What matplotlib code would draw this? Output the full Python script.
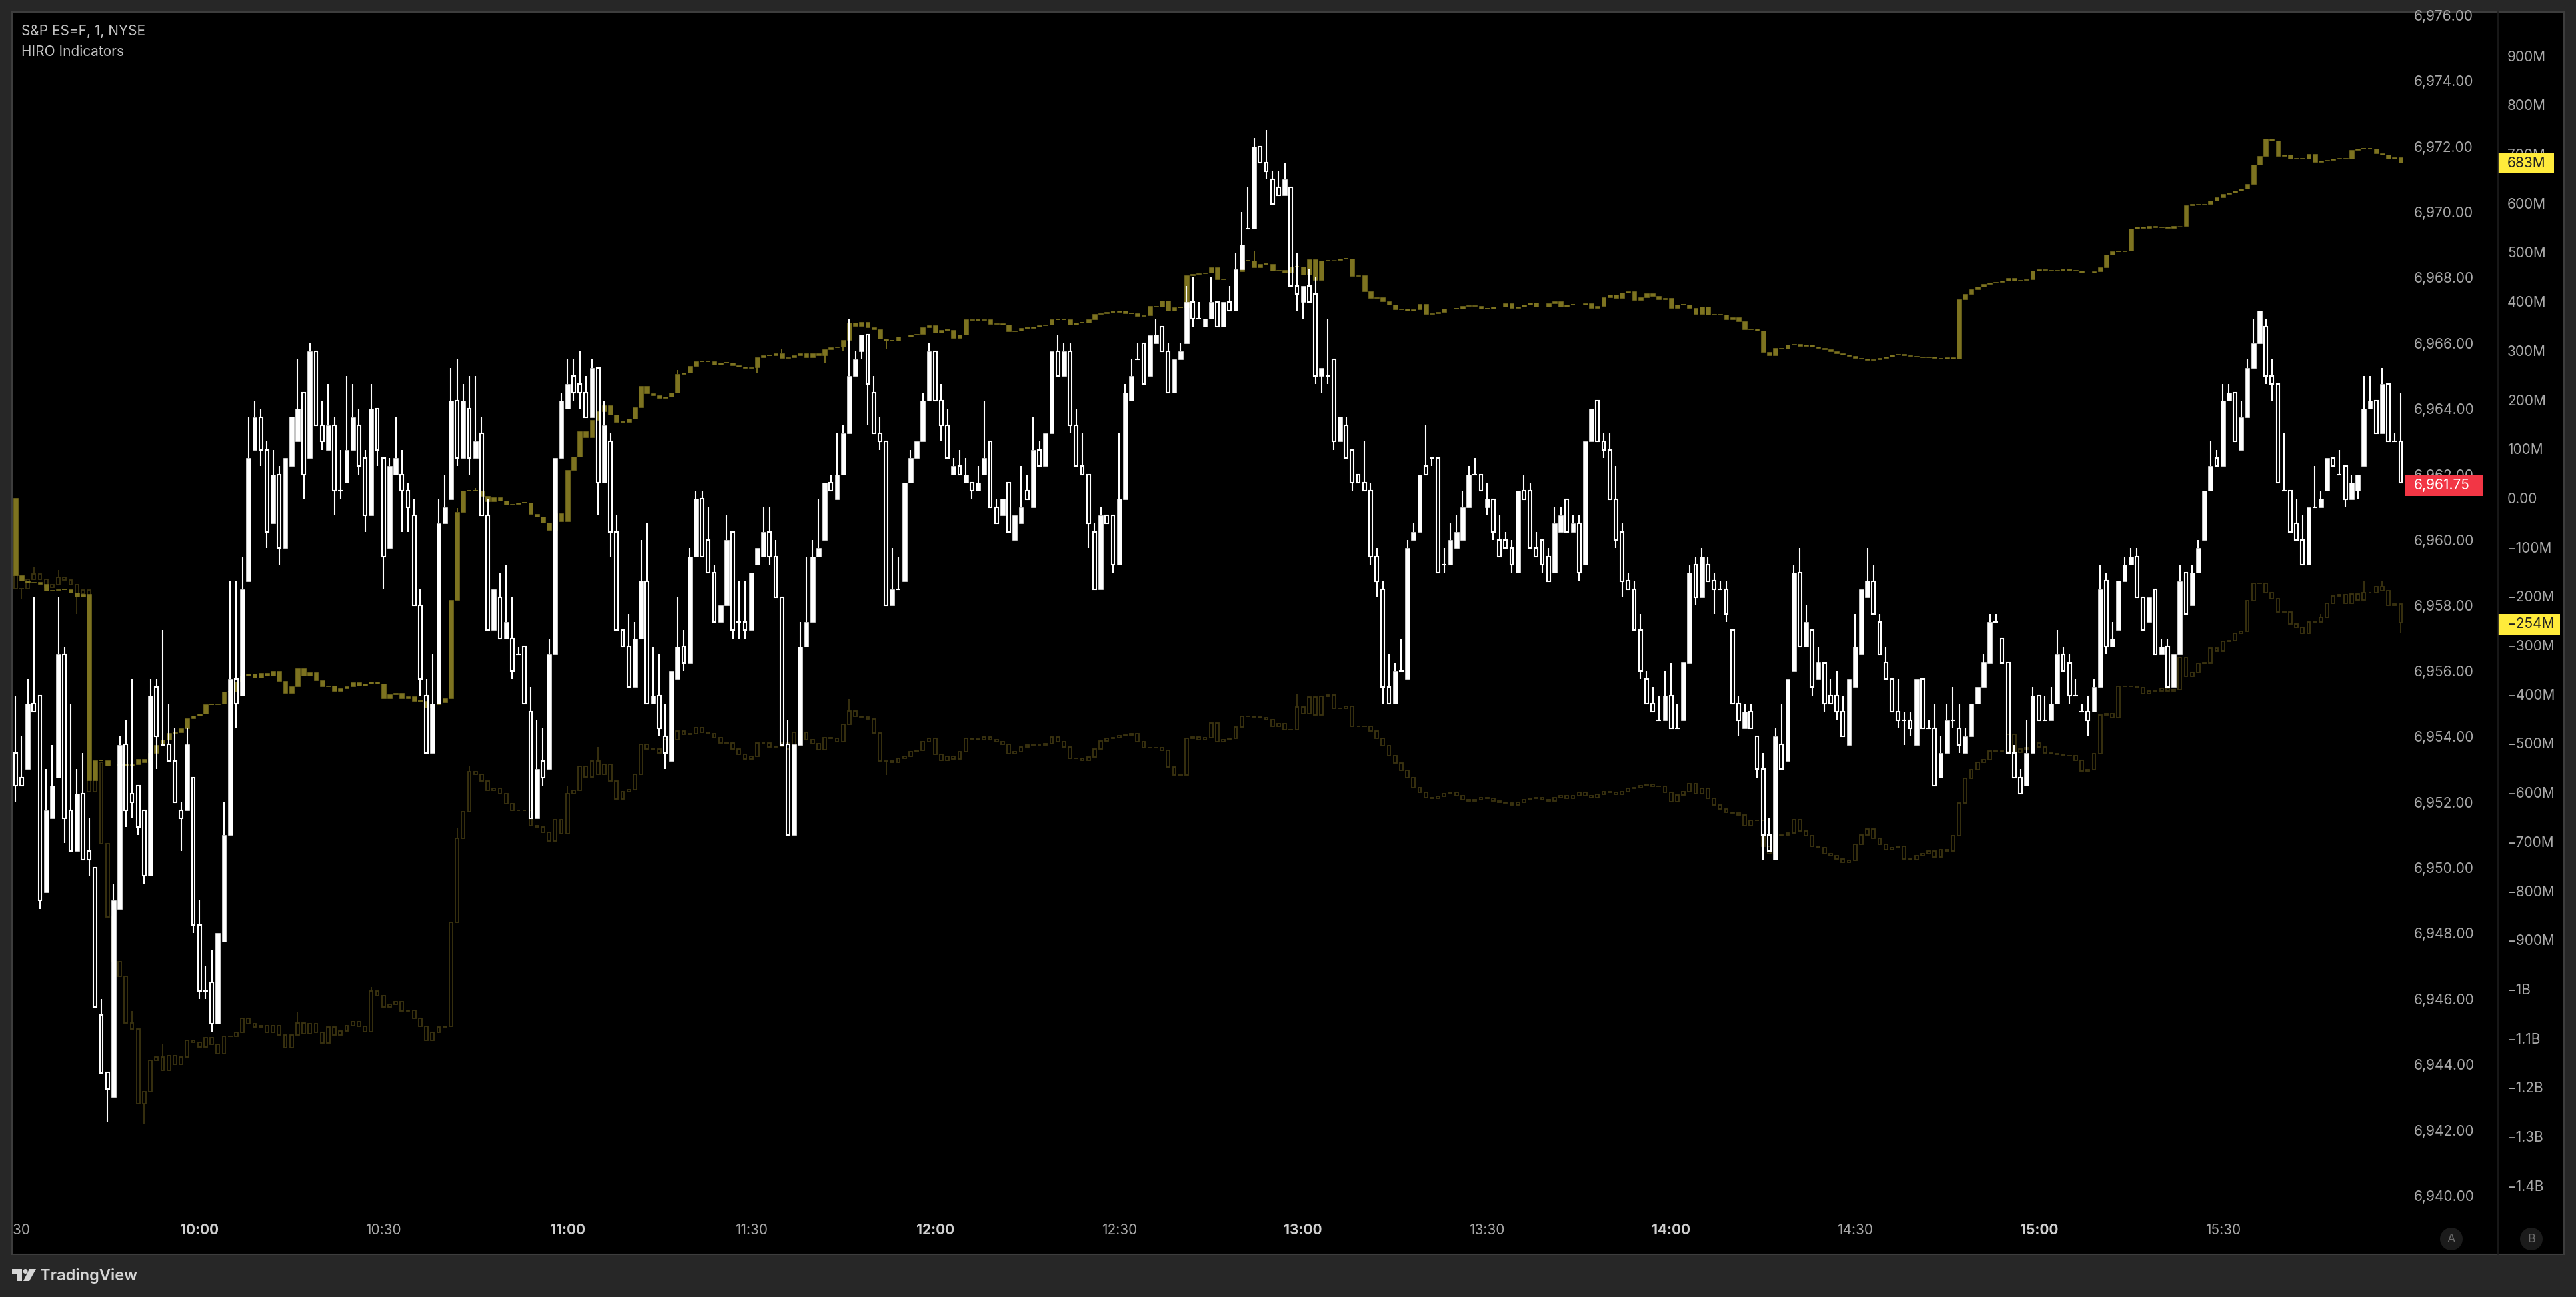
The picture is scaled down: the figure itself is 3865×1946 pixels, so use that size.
import numpy as np
import matplotlib
matplotlib.use("Agg")
import matplotlib.pyplot as plt
from matplotlib.patches import Rectangle, Polygon, Ellipse, FancyBboxPatch

plt.rcParams['font.family'] = ['Inter', 'DejaVu Sans']

# ES 1 minute bars, prices are stored minus 6900
PRICE_BASE = 6900
price_open = [
    53.5,52.75,53,55,55.25,49.25,51.5,52.75,56.5,51.75,
    50.5,52.25,50.5,50,45.5,43.75,43,48.75,53.75,52.25,
    52.5,51.75,49.75,55.5,53.75,53.75,53.25,51.75,51.75,52.75,
    48.25,46.25,46.5,45.25,47.75,51,55.75,55.25,58.75,62.75,
    63.75,62.75,60.5,62,59.75,62.25,63,64.5,62.5,65.75,
    63.5,62.75,63.5,61.5,61.75,62.75,63.5,62.5,60.75,64,
    62.5,59.75,62,62,61.5,60.75,58,55.25,53.5,55,
    60.5,61.25,64.25,62.5,64,62.5,63.25,60.75,57.25,58.25,
    57,57,56.5,56.75,54.75,51.5,53.25,53,56.5,62.5,
    64,65,64.75,64.5,63.75,65.25,61.75,63,60.25,57.25,
    56.75,55.5,57,58.75,55,55.25,54,53.25,55.75,56.75,
    56.25,59.5,61.25,60,59,57.5,58,60.25,57.5,57.5,
    57.25,59.25,59.5,60.25,59.5,58.25,53.75,51,53.75,56.75,
    57.5,59.5,60,61.75,61.25,62,63.25,65,65.75,66.25,
    64.5,63.25,63,58,58.5,58.75,61.75,62.5,63,64.25,
    65.75,64.25,63.5,62,62.25,61.75,61.75,61.5,62,63,
    61,60.75,61.75,60,60.5,61.5,61,62.75,62.25,63.25,
    65.75,65,65.75,63.5,62.25,62,60.25,58.5,60.75,60.75,
    59.25,61.25,64.25,65.5,66,65,66,66.5,65.75,64.5,
    65.5,66,67.25,66.75,66.5,66.75,67.25,66.5,67.25,67,
    68.25,69.5,69.5,72,71.5,71,70.75,70.5,70.75,67.75,
    67.25,67.75,67.5,65,65,65.5,63,63.5,62.75,62,
    61.75,61.5,59.5,58.5,55.5,55,56,55.75,60,60.25,
    62.25,62.5,62.5,59.25,59.25,59.75,60,61,62,62,
    61,61.25,60,60,59.75,59,61.5,61.5,59.75,60,
    59.5,59,60.25,61.25,60.25,60.5,59.25,63,64.25,63,
    62.75,61.25,60.25,58.75,58.5,57.25,55.75,55,54.5,54.5,
    55.25,54.25,54.5,56.25,59.25,58.25,59.25,58.75,58.5,58.5,
    57.25,55,54.25,54.75,54,53,51,50.25,53.75,53.25,
    56,59,56.75,57.25,55.75,56.25,55.25,55.25,54.75,53.75,
    55.5,56.5,58.25,58.75,57.5,56.25,55.75,54.75,54.5,54.5,
    53.75,55.75,54.25,54.25,52.75,53.5,54.5,54.25,53.5,54,
    55,55.5,56.25,57.5,57,56.25,53.5,52.75,52.5,53.5,
    55.25,54.5,54.5,55,56.5,56.25,55.25,54.75,54.75,54.75,
    55.5,58.75,56.75,57.25,58.75,59.25,59.5,58.25,57.5,58.5,
    56.5,56.75,55.5,56.5,59,58,59,60,61.5,62.5,
    62.25,64.25,64.5,62.75,63.75,65.25,66,66.5,65,64.75,
    61.5,61.5,60.5,60,59.25,61,61,61.5,62.5,62,
    62.25,61.25,61.5,62.25,64,64.25,63.25,64.75,63,63,
]
price_close = [
    52.5,52.5,55,54.75,49,51.75,52.5,56.5,51.5,50.5,
    52.25,50.25,50.25,45.75,43.75,43.25,49,53.75,51.75,52,
    51.25,49.75,55.25,54,53.75,53.25,52,51.5,53.75,48.25,
    46.25,46.25,45.25,48,51,55.75,55,58.5,62.5,63.75,
    62.75,60.25,62,59.75,62.5,63.75,64,62,65.75,63.5,
    63,63.5,61.5,61.5,62.75,63.75,62.25,60.75,64,62.75,
    59.5,62.25,62.5,61.5,61,58,55.75,53.5,55,60.5,
    61,64.25,62.5,64.25,62.5,63,60.75,57.25,58.5,57,
    57.5,56,56.5,55,51.5,53,52.75,56.5,62.5,64.25,
    64.75,64.5,64.5,63.75,65.25,61.75,63.5,60.25,57.25,56.75,
    55.5,57,58.75,55,55.25,54.25,53.5,56,56.75,56.25,
    59.5,61.25,59.5,59,57.5,58,60,57.25,57.5,57.25,
    59,59.75,60.25,59.5,58.25,53.75,51,53.75,56.75,57.5,
    59.5,59.75,61.75,61.5,62,63.25,65,65.5,66.25,64.75,
    63.25,63,58,58.5,58.5,61.75,62.5,63,64.25,65.75,
    64.25,63.5,62.5,62.25,62,62,61.5,61.75,62.5,61,
    60.5,61.25,60.25,60.75,61,61.25,62.75,62.25,63.25,65.75,
    65,65.75,63.5,62.25,62,60.5,58.5,60.75,60.5,59.25,
    61.25,64.5,65,65.5,64.75,66.25,66.25,65.75,64.5,65.5,
    65.75,67.25,66.75,66.75,66.75,67.25,66.5,67.25,67,68.25,
    69,69.5,72,71.5,71.25,70.25,70.5,71,67.75,67.5,
    67.75,67.25,65,65.25,65,63,63.75,62.5,61.75,61.75,
    61.5,59.5,58.75,55.5,55,56,56,59.75,60.25,62,
    62,62.5,59,59.25,60,60.25,61,62,62,61.5,
    61.25,60.25,59.5,59.75,59.25,61.5,61.25,59.75,59.5,59.25,
    58.75,60.5,60.75,60.25,60.5,59,63,64,63,62.75,
    61.25,60,58.75,58.5,57.25,56,55,54.75,54.5,55.25,
    54.25,54.25,56.25,59,58.25,59.5,58.75,58.5,58.5,57.75,
    55,54.5,54.75,54.25,53,51,50.5,54,53,55.75,
    59,56.75,57.5,55.5,56.25,55,55,54.75,54,55.75,
    56.75,58.5,58.75,57.75,56.5,55.75,54.75,54.5,54.5,54.25,
    55.75,54.25,54.25,52.5,53.5,54.5,54.5,53.75,54,55,
    55.5,56.25,57.5,57.5,56.25,53.5,52.75,52.25,53.5,55.25,
    54.5,54.5,55,56.5,56,55.25,55.25,54.75,54.5,55.5,
    58.5,56.75,57,58.75,59.25,59.5,58.25,57.25,58.25,56.5,
    56.75,55.5,56.5,58.75,57.75,59,59.75,61.5,62.25,62.25,
    64.25,64.5,63,63.75,65.25,66,67,65,64.75,61.75,
    61.5,60.25,60,59.25,61,61,61.25,62.5,62.25,62,
    61.25,61.75,62,64,64.25,63.25,64.75,63,63,61.75,
]
price_high = [
    55.25,54,55.75,58.25,55.25,53,53.75,58.25,56.75,55,
    53,53.5,51.5,50,46,43.75,49.5,54,54.5,55.75,
    52.5,51.75,55.75,55.75,57.25,55,54.25,52,54.25,52.75,
    49,47,47.5,48,52,58.75,58.75,59.5,63.75,64.25,
    64,63,62.75,62.25,62.5,63.75,65.5,64.5,66,65.75,
    64.25,64.75,63.75,62.75,65,64.75,64,62.75,64.75,64,
    62.5,62.5,63.75,62.75,61.75,61.25,58.5,55.75,56.5,61.25,
    62,65.25,65.5,64.75,65,65,63.75,61.25,58.5,59,
    59.25,58.25,56.75,56.75,55.5,54.5,54.25,57,62.5,64.5,
    65.5,65.5,65.75,65,65.5,65.25,64.25,63.25,60.75,57.25,
    57.75,57.5,60,60.5,56.75,56.5,55,56,58.25,57.25,
    59.75,61.5,61.5,61,59.25,58,60.75,60.25,58.75,58.75,
    59,59.75,61,61,60,58.25,54.5,53.75,57.5,59.5,
    60,61.25,61.75,62,63.25,63.5,66.75,65.75,66.25,66.25,
    65,63.75,63,59.75,59.5,61.75,62.75,63,64.5,66,
    65.75,64.75,64,62.5,62.75,62.5,61.75,62.25,64.25,63,
    61.25,61.25,61.75,60.75,62.25,62,63.75,63,63.25,65.75,
    66.25,66,66,64,63.25,62,60.5,61,60.75,60.75,
    63.25,64.75,65.5,66,66,66.25,66.75,66.5,66,65.5,
    66,67.75,68,67.25,66.75,68,67.25,67.25,67.75,68.75,
    70,70.75,72.25,72,72.5,71.25,71.25,71.5,70.75,68.75,
    67.75,68.25,68,65.25,66.75,65.5,63.75,63.75,62.75,62,
    63,61.75,59.75,58.75,56.5,56.25,57,60,60.5,62,
    63.5,62.5,62.5,59.75,60.5,60.75,61.5,62.25,62.5,62,
    61.75,61.25,60.75,60.25,60,61.5,62,61.75,60.25,60,
    59.75,61,61,61.25,60.75,60.75,63,64,64.25,63.25,
    63.25,62.25,60.5,59,58.75,57.75,56,55.5,55.25,56,
    56.25,55,56.25,59.25,59.5,59.75,59.5,59,58.75,58.75,
    57.25,55.25,55,55,54,53.5,51.5,54.25,55,55.75,
    59.25,59.75,58,57.25,56.75,56.25,55.75,56,55.25,55.75,
    57.75,58.5,59.75,59.25,57.75,56.75,55.75,55.75,54.75,54.75,
    55.75,55.75,54.5,55,54,55,55.5,55,54.25,55,
    55.5,56.5,57.75,57.75,57,56.25,53.75,53,54.5,55.5,
    55.25,55.25,55.5,57.25,56.75,56.5,55.75,55,55.25,55.75,
    59.25,59,57.5,58.75,59.5,59.75,59.75,58.25,58.25,58.5,
    57,57,56.5,59.25,59,59.25,60,61.5,63,62.75,
    64.75,64.75,64.5,64.25,65.5,66.75,67,66.75,65.5,64.75,
    63.25,61.5,61.25,60.75,61,62.25,61.5,62.5,62.5,62.75,
    62.25,62,62,65,65,64.25,65.25,64.75,63.25,64.5,
]
price_low = [
    52,52.5,53,54.75,48.75,49.25,51.5,52.75,50.75,50.5,
    50.5,50.25,49.75,45.75,43.75,42.25,43,48.75,51.25,51.5,
    51,49.5,49.75,53,53.75,53.25,52,50.5,51.75,48,
    46,46,45,45.25,47.75,51,54.25,55.25,58.75,62.75,
    62.25,59.75,60.5,59.25,59.75,62.25,63,61.25,62.5,63.5,
    62.75,62.75,60.75,61.25,61.75,62.75,62,60.25,60.75,62.25,
    58.5,59.75,62,60.25,60.25,58,55.25,53.5,53.5,55,
    60.5,61.25,62.25,62.5,62,62.5,60.75,57.25,57.25,57,
    57,55.75,56.5,55,51.5,51.5,52.5,53,56.5,62.5,
    64,64.25,64,63.75,63.75,60.75,61.75,59.5,57.25,56.75,
    55.5,55.5,57,55,55,54,53,53.25,55.75,56,
    56.25,59.5,59.5,59,57.5,57.5,58,57,57,57,
    57.25,59.25,59.5,59.25,58.25,53.75,51,51,53.75,56.75,
    57.5,59.5,60,61.5,61.25,62,63.25,65,65.5,63.5,
    63.25,62.75,58,58,58.5,58.75,61.75,62.5,63,64.25,
    64.25,63,62.5,62,62,61.75,61.25,61.5,62,61,
    60.5,60.75,60.25,60,60.5,61.25,61,62.25,62.25,63.25,
    65,65,63.25,62.25,62,59.75,58.5,58.5,60.5,59,
    59.25,61.25,64.25,65.5,64.75,65,66,65.75,64.5,64.5,
    65.5,66,66.5,66.75,66.5,66.75,66.5,66.5,67,67,
    68.25,69.5,69.5,71.5,71,70.25,70.5,70.5,67.75,67,
    66.75,67.25,64.75,64.5,64.75,62.75,63,62.5,61.5,61.75,
    61.5,59.25,58.25,55,55,55,56,55.75,60,60.25,
    62,62.25,59,59,59.25,59.75,60,61,62,61.5,
    60.75,60,59.5,59.75,59,59,61.25,59.75,59.5,59,
    58.75,59,60.25,60.25,60.25,58.75,59.25,63,63,62.5,
    61.25,59.75,58.25,58.5,57.25,55.75,55,54.75,54.5,54.5,
    54.25,54.25,54.5,56.25,58,58.25,58.75,57.75,58.5,57.5,
    55,54,54.25,54.25,52.75,50.25,50.5,50.25,53,53.25,
    56,56.75,56.75,55.25,55.75,54.75,55,54.5,54,53.75,
    55.5,56.5,58.25,57.75,56.5,55.75,54.75,54.25,53.75,54,
    53.75,54.25,54.25,52.5,52.75,53.5,54.25,53.5,53.5,54,
    55,55.5,56.25,57.5,56.25,53.5,52.75,52.25,52.5,53.5,
    54.5,54.5,54.5,55,56,55,55.25,54.75,54,54.75,
    55.5,56.5,56.75,57.25,58.75,59.25,58.25,57.25,57.5,56.5,
    56.5,55.5,55.5,56.5,57.75,58,59,60,61.5,62.25,
    62.25,64.25,63,62.75,63.75,65.25,66,64.75,64.25,61.75,
    61.5,60.25,60,59.25,59.25,61,61,61.5,62.25,62,
    61,61.25,61.25,62.25,64,63.25,63.25,63,63,61.75,
]

# HIRO closes in millions, each candle opens at the previous close
hiro_start = 0
hiro_close = [
    -157,-168,-172,-171,-175,-188,-187,-186,-186,-192,
    -201,-195,-575,-535,-535,-546,-545,-542,-545,-543,
    -532,-538,-519,-503,-493,-479,-477,-470,-449,-444,
    -440,-420,-420,-419,-395,-395,-375,-362,-358,-366,
    -357,-362,-353,-373,-397,-384,-347,-362,-355,-372,
    -384,-383,-394,-388,-384,-376,-382,-379,-374,-379,
    -408,-400,-397,-408,-405,-414,-414,-427,-421,-416,
    -409,-208,-28,15,15,15,4,-7,1,-5,
    -13,-12,-10,-10,-32,-38,-50,-65,-31,-48,
    57,84,136,124,159,177,188,169,155,155,
    162,184,228,213,209,204,206,215,253,255,
    269,278,278,278,271,275,275,270,267,264,
    266,286,291,291,294,285,286,291,295,286,
    295,290,303,306,308,321,357,350,358,348,
    343,324,320,320,328,329,332,334,348,352,
    337,342,342,325,332,363,362,362,363,354,
    356,353,339,341,346,346,349,351,353,363,
    363,363,353,357,357,363,374,376,379,379,
    381,376,376,370,372,391,390,402,381,388,
    388,453,456,457,459,469,445,446,447,461,
    483,483,470,476,476,463,464,459,471,471,
    455,486,444,483,484,485,487,487,452,453,
    421,407,408,400,393,384,385,381,384,395,
    374,376,379,385,386,386,391,392,391,386,
    386,390,389,396,387,390,394,398,389,390,
    396,400,389,393,393,394,396,387,391,408,
    414,407,418,420,403,408,416,411,405,407,
    387,394,394,387,374,389,373,374,373,363,
    368,360,343,345,340,297,290,305,304,312,
    313,310,312,308,305,302,298,295,292,289,
    285,283,281,282,285,288,292,293,291,289,
    287,286,287,285,284,286,284,405,415,425,
    430,435,438,440,442,448,443,444,445,463,
    465,464,463,464,464,464,463,459,458,462,
    470,495,502,502,503,548,552,550,553,551,
    552,550,553,554,595,598,597,599,605,612,
    619,622,625,630,639,679,696,732,727,696,
    699,691,692,690,700,684,686,688,690,692,
    691,708,711,711,711,701,699,690,694,683,
]
hiro_wick_bar = [72, 75, 96, 108, 121, 125, 132, 135, 142, 202]
hiro_wick_end = [-20, 20, 192, 260, 254, 302, 274, 300, 304, 502]

hiro2_start = -157
hiro2_close = [
    -184,-184,-166,-155,-165,-182,-176,-161,-167,-176,
    -195,-187,-598,-538,-704,-853,-945,-974,-1069,-1082,
    -1234,-1209,-1145,-1139,-1166,-1136,-1153,-1139,-1104,-1109,
    -1118,-1099,-1112,-1132,-1097,-1097,-1088,-1060,-1071,-1078,
    -1074,-1088,-1074,-1093,-1119,-1093,-1069,-1091,-1071,-1088,
    -1110,-1077,-1093,-1086,-1074,-1067,-1076,-1087,-1004,-1013,
    -1037,-1031,-1026,-1045,-1044,-1060,-1076,-1105,-1088,-1078,
    -1076,-864,-694,-639,-558,-563,-576,-596,-592,-603,
    -623,-637,-636,-637,-668,-670,-681,-699,-655,-684,
    -603,-595,-547,-569,-536,-563,-543,-576,-613,-598,
    -594,-563,-502,-512,-512,-519,-492,-492,-475,-482,
    -481,-468,-477,-480,-489,-499,-499,-512,-522,-532,
    -526,-500,-499,-508,-506,-500,-511,-478,-478,-493,
    -501,-513,-489,-490,-497,-462,-434,-445,-447,-451,
    -479,-536,-536,-538,-531,-526,-517,-514,-496,-490,
    -522,-535,-526,-532,-517,-490,-491,-493,-487,-493,
    -497,-502,-521,-517,-507,-504,-504,-503,-501,-487,
    -497,-508,-530,-530,-534,-528,-511,-495,-490,-489,
    -484,-483,-481,-497,-509,-509,-509,-514,-548,-565,
    -565,-490,-487,-492,-489,-459,-496,-492,-490,-467,
    -445,-445,-447,-448,-452,-466,-460,-472,-472,-426,
    -440,-406,-443,-405,-401,-429,-429,-425,-465,-466,
    -466,-475,-490,-505,-525,-540,-555,-570,-590,-600,
    -610,-612,-608,-603,-600,-607,-615,-618,-615,-610,
    -612,-618,-620,-622,-625,-620,-615,-612,-610,-614,
    -618,-610,-606,-612,-606,-600,-606,-610,-604,-598,
    -600,-604,-598,-592,-590,-586,-583,-588,-588,-600,
    -619,-605,-598,-582,-603,-591,-612,-626,-634,-641,
    -642,-646,-667,-657,-657,-710,-725,-688,-686,-682,
    -655,-678,-688,-710,-713,-724,-728,-735,-742,-738,
    -705,-686,-674,-694,-705,-716,-712,-710,-735,-737,
    -729,-724,-719,-731,-716,-719,-688,-621,-571,-553,
    -538,-533,-516,-516,-517,-482,-518,-511,-509,-500,
    -507,-520,-521,-522,-525,-525,-535,-556,-553,-521,
    -442,-440,-448,-384,-384,-384,-387,-399,-394,-394,
    -388,-394,-391,-325,-364,-356,-338,-336,-305,-312,
    -292,-291,-275,-271,-209,-173,-173,-193,-205,-232,
    -232,-256,-263,-275,-252,-253,-243,-214,-200,-197,
    -215,-196,-207,-193,-192,-180,-189,-219,-216,-254,
]
hiro2_wick_bar = [1, 3, 7, 10, 19, 21, 24, 46, 58, 72, 74, 90, 95, 136, 142, 209, 376, 383, 386, 389]
hiro2_wick_end = [-206, -141, -147, -236, -1045, -1274, -1112, -1048, -996, -672, -547, -587, -508, -410, -565, -400, -236, -169, -168, -275]

time_bars = [0, 30, 60, 90, 120, 150, 180, 210, 240, 270, 300, 330, 360]
time_labels = ['9:30', '10:00', '10:30', '11:00', '11:30', '12:00', '12:30', '13:00', '13:30', '14:00', '14:30', '15:00', '15:30']
price_ticks = [6940, 6942, 6944, 6946, 6948, 6950, 6952, 6954, 6956, 6958, 6960, 6962, 6964, 6966, 6968, 6970, 6972, 6974, 6976]
hiro_ticks = [900, 800, 700, 600, 500, 400, 300, 200, 100, 0, -100, -200, -300, -400, -500, -600, -700, -800, -900, -1000, -1100, -1200, -1300, -1400]
hiro_tick_labels = ['900M', '800M', '700M', '600M', '500M', '400M', '300M', '200M', '100M', '0.00', '−100M', '−200M', '−300M', '−400M',
                    '−500M', '−600M', '−700M', '−800M', '−900M', '−1B', '−1.1B', '−1.2B', '−1.3B', '−1.4B']

W, H = 3866, 1946
BG = '#272727'
GOLD = '#7d7320'
DARK_GOLD = '#3b3410'
TICK = '#a9a9a9'

def fx(px):
    return px / W

def fy(py):
    return 1 - py / H

def pane(left, right):
    return [fx(left), fy(1882), fx(right) - fx(left), (1882 - 18) / H]

def wicks(ax, x, top, bottom, high, low, color, lw):
    ax.vlines(x, top, high, color=color, linewidth=lw, zorder=2)
    ax.vlines(x, low, bottom, color=color, linewidth=lw, zorder=2)

def candles(ax, o, h, l, c, color, solid_up, solid_down, lw=1.5):
    x = np.arange(len(o))
    top = np.maximum(o, c)
    bottom = np.minimum(o, c)
    wicks(ax, x, top, bottom, h, l, color, lw)
    up = c > o
    down = c < o
    flat = c == o
    for mask, solid in ((up, solid_up), (down, solid_down)):
        if solid:
            ax.bar(x[mask], (top - bottom)[mask], bottom=bottom[mask], width=0.72, color=color,
                   edgecolor=color, linewidth=0.4, zorder=3)
        else:
            ax.bar(x[mask], (top - bottom)[mask], bottom=bottom[mask], width=0.54, fill=False,
                   edgecolor=color, linewidth=lw, zorder=3)
    ax.hlines(c[flat], x[flat] - 0.38, x[flat] + 0.38, color=color, linewidth=lw, zorder=3)

def with_wicks(close, start, bars, ends):
    # add the few wicks that show beyond the bodies
    close = np.array(close, dtype=float)
    o = np.r_[start, close[:-1]]
    h = np.maximum(o, close)
    l = np.minimum(o, close)
    for b, e in zip(bars, ends):
        h[b] = max(h[b], e)
        l[b] = min(l[b], e)
    return o, h, l, close

fig = plt.figure(figsize=(W / 100, H / 100), dpi=100, facecolor=BG)
fig.add_artist(Rectangle((fx(18), fy(1882)), fx(3847) - fx(18), (1882 - 18) / H, transform=fig.transFigure,
                         facecolor='black', edgecolor='#3d3d3d', linewidth=1.5, zorder=-1))

# bars sit at 23.2 + 9.2 * n pixels
ax_hiro = fig.add_axes(pane(18, 3748))
ax_hiro.patch.set_visible(False)
ax_hiro.set_xlim((18 - 23.2) / 9.2, (3748 - 23.2) / 9.2)
ax_hiro.set_ylim((747 - 1882) / 0.737, (747 - 18) / 0.737)

o2, h2, l2, c2 = with_wicks(hiro2_close, hiro2_start, hiro2_wick_bar, hiro2_wick_end)
candles(ax_hiro, o2, h2, l2, c2, DARK_GOLD, False, False, lw=1.3)
o1, h1, l1, c1 = with_wicks(hiro_close, hiro_start, hiro_wick_bar, hiro_wick_end)
candles(ax_hiro, o1, h1, l1, c1, GOLD, True, True, lw=1.3)

ax_hiro.yaxis.tick_right()
ax_hiro.set_yticks(hiro_ticks)
ax_hiro.set_yticklabels(hiro_tick_labels)
ax_hiro.tick_params(axis='y', length=0, pad=10, labelcolor=TICK, labelsize=15)
ax_hiro.set_xticks([])

ax_price = fig.add_axes(pane(18, 3612))
ax_price.patch.set_visible(False)
ax_price.set_xlim((18 - 23.2) / 9.2, (3612 - 23.2) / 9.2)
ax_price.set_ylim(6940 - 88 / 49.2, 6940 + (1794 - 18) / 49.2)

candles(ax_price, np.array(price_open) + PRICE_BASE, np.array(price_high) + PRICE_BASE,
        np.array(price_low) + PRICE_BASE, np.array(price_close) + PRICE_BASE, 'white', True, False)

ax_price.yaxis.tick_right()
ax_price.set_yticks(price_ticks)
ax_price.set_yticklabels([f'{p:,.2f}' for p in price_ticks])
ax_price.tick_params(axis='y', length=0, pad=7, labelcolor=TICK, labelsize=15)
ax_price.set_xticks(time_bars)
ax_price.set_xticklabels(time_labels)
ax_price.tick_params(axis='x', length=0, pad=-33, labelcolor=TICK, labelsize=15)
for t, lab in zip(ax_price.get_xticklabels(), time_labels):
    t.set_clip_on(True)
    t.set_clip_box(ax_price.bbox)
    if lab.endswith(':00'):
        t.set_fontweight('bold')
        t.set_color('#d0d0d0')

for ax in (ax_hiro, ax_price):
    for s in ax.spines.values():
        s.set_visible(False)

# divider between the two scales
fig.add_artist(plt.Line2D([fx(3748), fx(3748)], [fy(18), fy(1882)], color='#1c1c1c', linewidth=1.2))

def last_label(x0, x1, y0, y1, color, text, text_color, tx):
    fig.add_artist(FancyBboxPatch((fx(x0), fy(y1)), fx(x1) - fx(x0), (y1 - y0) / H,
                                  boxstyle='square,pad=0', transform=fig.transFigure,
                                  facecolor=color, edgecolor='none', zorder=1))
    fig.text(fx(tx), fy((y0 + y1) / 2), text, color=text_color, fontsize=15, va='center', ha='left', zorder=3)

last_label(3748, 3832, 230, 260, '#ffeb3b', '683M', '#222222', 3762)
last_label(3748, 3841, 921, 952, '#ffeb3b', '−254M', '#222222', 3762)
last_label(3608, 3725, 713, 744, '#f23645', '6,961.75', 'white', 3622)

fig.text(fx(32), fy(47), 'S&P ES=F, 1, NYSE', color='#c4c4c4', fontsize=15, va='center')
fig.text(fx(32), fy(78), 'HIRO Indicators', color='#c4c4c4', fontsize=15, va='center')

# scale mode buttons
for cx, name in ((3678, 'A'), (3798, 'B')):
    fig.add_artist(Ellipse((fx(cx), fy(1859)), 34 / W, 34 / H, transform=fig.transFigure, facecolor='#1b1b1b', edgecolor='none'))
    fig.text(fx(cx), fy(1859), name, color='#6c6c6c', fontsize=13, ha='center', va='center')

# TradingView mark and name
logo = '#d6d6d6'
fig.add_artist(Polygon([(fx(18), fy(1904)), (fx(33), fy(1904)), (fx(33), fy(1922)), (fx(26), fy(1922)),
                        (fx(26), fy(1911)), (fx(18), fy(1911))], transform=fig.transFigure, facecolor=logo, edgecolor='none'))
fig.add_artist(Ellipse((fx(38), fy(1907.5)), 7 / W, 7 / H, transform=fig.transFigure, facecolor=logo, edgecolor='none'))
fig.add_artist(Polygon([(fx(44), fy(1904)), (fx(54), fy(1904)), (fx(44), fy(1922)), (fx(35), fy(1922))],
                       transform=fig.transFigure, facecolor=logo, edgecolor='none'))
fig.text(fx(60), fy(1915), 'TradingView', color=logo, fontsize=17, fontweight='semibold', va='center')

fig.savefig('out.png', dpi=100, facecolor=BG)
